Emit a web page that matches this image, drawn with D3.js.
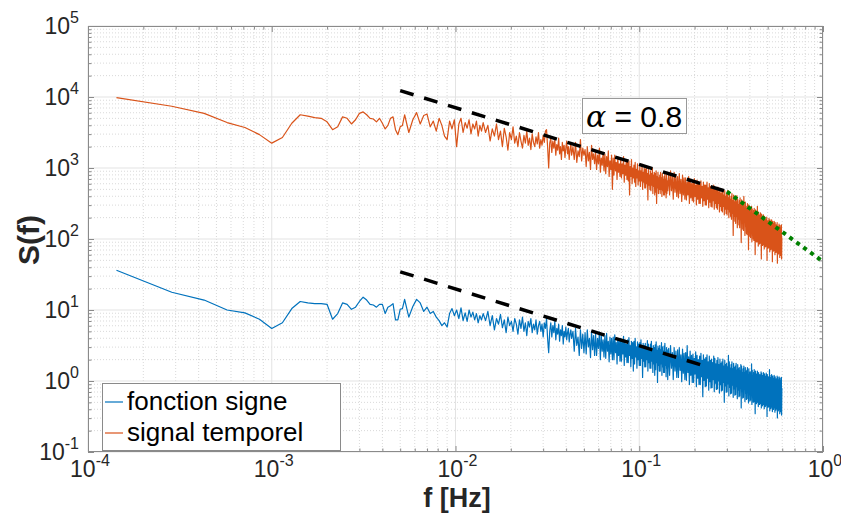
<!DOCTYPE html>
<html><head><meta charset="utf-8">
<script src="https://cdn.jsdelivr.net/npm/d3@7"></script>
<style>body{margin:0;background:#fff}svg{display:block}</style>
</head><body>
<svg id="chart" width="841" height="514"></svg>
<script>
// ---------- data ----------
const df = 1 / 7000; // frequency resolution, Hz
const freqIndex = [
1,2,3,4,5,6,7,8,9,10,11,12,13,14,15,16,17,18,19,20,21,22,23,24,25,26,27,28,29,30,31,32,33,34,35,36,37,
39,41,43,45,47,49,51,53,55,57,59,61,63,65,67,69,71,73,75,77,79,81,83,85,87,89,91,93,95,97,99,
102,105,108,111,114,117,120,123,126,129,132,135,138,141,144,147,150,153,156,159,162,165,168,171,174,177,180,183,186,189,192,195,198,201,204,207,210,213,216,219,222,225,228,231,234,237,240,243,246,249,252,255,258,261,264,267,270,273,276,279,282,285,288,291,294,297,300,
305,310,315,320,325,330,335,340,345,350,355,360,365,370,375,380,385,390,395,400,
405,410,415,420,425,430,435,440,445,450,455,460,465,470,475,480,485,490,495,500,
505,510,515,520,525,530,535,540,545,550,555,560,565,570,575,580,585,590,595,600,
605,610,615,620,625,630,635,640,645,650,655,660,665,670,675,680,685,690,695,700,
705,710,715,720,725,730,735,740,745,750,755,760,765,770,775,780,785,790,795,800,
805,810,815,820,825,830,835,840,845,850,855,860,865,870,875,880,885,890,895,900,
905,910,915,920,925,930,935,940,945,950,955,960,965,970,975,980,985,990,995,1000,
1012,1024,1036,1048,1060,1072,1084,1096,1108,1120,1132,1144,1156,1168,1180,1192,1204,1216,1228,1240,
1252,1264,1276,1288,1300,1312,1324,1336,1348,1360,1372,1384,1396,1408,1420,1432,1444,1456,1468,1480,
1492,1504,1516,1528,1540,1552,1564,1576,1588,1600,1612,1624,1636,1648,1660,1672,1684,1696,1708,1720,
1732,1744,1756,1768,1780,1792,1804,1816,1828,1840,1852,1864,1876,1888,1900,1912,1924,1936,1948,1960,
1972,1984,1996,2008,2020,2032,2044,2056,2068,2080,2092,2104,2116,2128,2140,2152,2164,2176,2188,2200,
2212,2224,2236,2248,2260,2272,2284,2296,2308,2320,2332,2344,2356,2368,2380,2392,2404,2416,2428,2440,
2452,2464,2476,2488,2500,2512,2524,2536,2548,2560,2572,2584,2596,2608,2620,2632,2644,2656,2668,2680,
2692,2704,2716,2728,2740,2752,2764,2776,2788,2800,2812,2824,2836,2848,2860,2872,2884,2896,2908,2920,
2932,2944,2956,2968,2980,2992,3004,3016,3028,3040,3052,3064,3076,3088,3100,3112,3124,3136,3148,3160,
3172,3184,3196,3208,3220,3232,3244,3256,3268,3280,3292,3304,3316,3328,3340,3352,3364,3376,3388,3400,
3412,3424,3436,3448,3460,3472,3484,3496,3508,3520,3532,3544,3556,3568,3580,3592,3604,3616,3628,3640,
3652,3664,3676,3688,3700,3712,3724,3736,3748,3760,3772,3784,3796,3808,3820,3832,3844,3856,3868,3880,
3892,3904,3916,3928,3940,3952,3964,3976,3988,4000,4012,4024,4036,4048,4060,4072,4084,4096,4108,4120,
4132,4144,4156,4168,4180];

// log10 S(f), "signal temporel"
const temporelLog10 = [
3.99,3.87,3.77,3.64,3.57,3.47,3.35,3.43,3.63,3.75,3.73,3.71,3.70,3.65,3.54,3.58,3.72,3.70,3.62,3.68,
3.77,3.79,3.75,3.70,3.69,3.65,3.70,3.63,3.55,3.60,3.70,3.72,3.54,3.47,3.58,3.60,3.75,
3.50,3.68,3.78,3.62,3.74,3.76,3.58,3.66,3.52,3.70,3.60,3.45,3.40,3.66,3.55,3.68,3.30,3.62,3.70,3.50,
3.64,3.56,3.68,3.48,3.62,3.55,3.66,3.45,3.60,3.52,3.64,
3.50,3.60,3.38,3.55,3.45,3.62,3.40,3.52,3.30,3.56,3.44,3.25,3.50,3.40,3.58,3.35,
3.45,3.30,3.50,3.38,3.28,3.46,3.35,3.52,3.32,3.42,3.26,3.48,3.36,3.30,3.44,3.34,3.50,3.28,3.40,3.32,3.46,3.36,3.52,
3.54,3.30,3.00,3.35,3.42,3.22,3.38,3.28,3.40,3.18,3.33,3.25,3.42,3.20,3.30,3.12,3.36,3.24,3.32,3.15,3.28,3.38,3.20,3.30,3.12,3.26,3.34,3.18,
3.30,3.12,3.36,3.08,3.24,3.16,3.40,3.10,3.28,3.18,
3.26,3.02,3.30,3.10,3.22,2.98,3.32,3.12,3.20,3.06,
3.24,2.98,3.18,3.06,3.28,2.94,3.14,3.04,3.22,2.96,
3.20,2.92,3.16,3.02,3.24,2.88,3.10,2.98,3.18,2.70,
3.14,2.90,3.18,2.96,3.08,2.84,3.16,2.94,3.06,2.88,
3.12,2.86,3.06,2.92,3.16,2.80,3.04,2.90,3.12,2.84,
3.08,2.82,3.10,2.62,3.02,2.88,3.12,2.78,3.00,2.86,
3.04,2.80,3.08,2.74,2.98,2.86,3.06,2.76,2.96,2.82,
3.02,2.74,2.96,2.82,3.05,2.70,2.94,2.80,3.00,2.72,
2.98,2.72,3.02,2.78,2.92,2.55,2.98,2.76,2.90,2.70,
2.96,2.68,2.92,2.76,3.00,2.64,2.90,2.74,2.94,2.62,
2.92,2.66,2.96,2.50,2.88,2.72,2.94,2.64,2.86,2.70,
2.90,2.64,2.94,2.70,2.86,2.60,2.92,2.68,2.84,2.62,
2.88,2.62,2.92,2.66,2.84,2.58,2.90,2.64,2.82,2.68,
2.92,2.62,2.96,2.68,2.88,2.56,2.94,2.66,2.90,2.60,
2.88,2.58,2.92,2.64,2.84,2.53,2.90,2.62,2.86,2.56,
2.86,2.55,2.80,2.62,2.88,2.50,2.84,2.58,2.78,2.54,
2.82,2.52,2.85,2.60,2.76,2.48,2.83,2.56,2.80,2.50,
2.78,2.50,2.82,2.58,2.74,2.46,2.80,2.54,2.76,2.48,
2.76,2.48,2.80,2.56,2.72,2.44,2.78,2.52,2.74,2.46,
2.74,2.45,2.70,2.54,2.76,2.42,2.72,2.50,2.68,2.44,
2.70,2.42,2.73,2.50,2.66,2.38,2.71,2.46,2.64,2.40,
2.66,2.38,2.70,2.46,2.62,2.34,2.68,2.42,2.60,2.36,
2.64,2.34,2.68,2.42,2.58,2.30,2.66,2.38,2.56,2.32,
2.60,2.28,2.64,2.36,2.54,2.05,2.62,2.32,2.52,2.25,
2.58,2.22,2.52,2.32,2.61,2.16,2.56,2.28,2.48,2.20,
2.54,2.16,2.58,2.28,2.48,1.95,2.55,2.22,2.46,2.14,
2.50,2.12,2.60,2.24,2.44,2.05,2.52,2.18,2.42,2.08,
2.46,2.06,2.50,2.20,2.40,1.85,2.48,2.14,2.38,2.04,
2.44,2.02,2.38,2.16,2.46,1.96,2.42,2.10,2.34,2.00,
2.40,1.98,2.43,2.12,2.34,1.78,2.41,2.06,2.32,1.96,
2.36,1.96,2.46,2.08,2.30,1.90,2.38,2.04,2.28,1.93,
2.34,1.94,2.37,2.06,2.28,1.72,2.35,2.02,2.26,1.91,
2.30,1.92,2.34,2.04,2.24,1.86,2.32,2.00,2.22,1.89,
2.28,1.90,2.22,2.02,2.31,1.70,2.26,1.98,2.20,1.87,
2.26,1.88,2.29,2.00,2.20,1.82,2.27,1.96,2.18,1.85,
2.24,1.86,2.27,1.98,2.18,1.68,2.25,1.94,2.16,1.83,
2.22,1.84,2.25,1.96,2.16,1.78,2.23,1.92,2.14,1.81,
2.20,1.82,2.14,1.94,2.23,1.66,2.18,1.90,2.12,1.79,
2.18,1.80,2.21,1.92,2.12,1.74,2.19,1.88,2.10,1.77,
2.16,1.80,2.20,1.72,2.02];

// log10 S(f), "fonction signe"
const signeLog10 = [
1.56,1.25,1.14,1.00,0.96,0.87,0.74,0.82,1.02,1.12,1.10,1.09,1.09,1.08,0.87,0.95,1.10,1.08,1.01,1.04,
1.12,1.18,1.14,1.08,1.07,1.04,1.08,1.08,0.95,1.04,1.06,1.09,0.86,0.86,1.01,1.02,1.15,
0.90,1.05,1.15,1.10,0.98,1.04,0.95,0.98,0.90,0.85,0.78,0.82,0.76,0.95,1.02,0.92,1.00,0.88,1.03,0.85,
0.96,0.84,1.00,0.90,0.97,0.86,0.95,0.82,0.92,0.86,0.95,
0.85,0.98,0.78,0.92,0.72,0.88,0.80,0.94,0.75,0.86,0.68,0.90,0.78,0.84,0.70,0.88,
0.80,0.66,0.86,0.74,0.90,0.70,0.82,0.64,0.84,0.76,0.88,0.68,0.80,0.72,0.86,0.66,0.78,0.84,0.70,0.80,0.62,0.82,0.74,
0.88,0.60,0.40,0.70,0.82,0.62,0.78,0.68,0.84,0.58,0.74,0.66,0.80,0.56,0.72,0.64,0.78,0.52,0.70,0.62,0.76,0.58,0.68,0.74,0.55,0.66,0.72,0.60,
0.70,0.42,0.74,0.50,0.62,0.36,0.72,0.46,0.66,0.40,
0.68,0.38,0.72,0.48,0.60,0.33,0.70,0.44,0.64,0.36,
0.66,0.36,0.60,0.46,0.69,0.30,0.64,0.42,0.58,0.34,
0.64,0.32,0.67,0.42,0.56,0.27,0.62,0.38,0.60,0.30,
0.62,0.30,0.65,0.40,0.54,0.24,0.60,0.36,0.56,0.28,
0.60,0.28,0.55,0.38,0.63,0.22,0.58,0.34,0.52,0.26,
0.58,0.26,0.61,0.36,0.50,0.20,0.56,0.32,0.54,0.14,
0.56,0.24,0.60,0.34,0.48,0.18,0.55,0.30,0.52,0.22,
0.54,0.22,0.58,0.32,0.46,0.05,0.53,0.28,0.50,0.20,
0.53,0.20,0.48,0.30,0.57,0.14,0.52,0.26,0.45,0.18,
0.52,0.18,0.56,0.28,0.44,0.12,0.50,0.24,0.47,0.08,
0.51,0.16,0.55,0.26,0.43,-0.02,0.49,0.22,0.46,0.14,
0.50,0.14,0.44,0.24,0.54,0.08,0.48,0.20,0.42,0.12,
0.49,0.12,0.53,0.22,0.41,0.06,0.47,0.18,0.44,0.02,
0.46,0.08,0.50,0.18,0.40,0.02,0.47,0.14,0.42,0.05,
0.44,0.05,0.47,0.15,0.37,-0.01,0.45,0.11,0.39,0.02,
0.40,0.01,0.50,0.12,0.34,-0.05,0.42,0.08,0.36,-0.02,
0.38,-0.02,0.32,0.10,0.41,-0.08,0.36,0.04,0.30,-0.05,
0.35,-0.05,0.39,0.06,0.29,-0.22,0.37,0.01,0.31,-0.08,
0.33,-0.07,0.37,0.04,0.27,-0.13,0.35,-0.01,0.29,-0.10,
0.31,-0.09,0.26,0.02,0.35,-0.15,0.32,-0.03,0.24,-0.12,
0.29,-0.11,0.33,0.00,0.23,-0.17,0.31,-0.05,0.25,-0.14,
0.27,-0.13,0.31,-0.02,0.21,-0.30,0.29,-0.07,0.23,-0.16,
0.25,-0.15,0.20,-0.04,0.36,-0.21,0.27,-0.09,0.18,-0.18,
0.23,-0.17,0.27,-0.06,0.17,-0.23,0.25,-0.11,0.19,-0.20,
0.21,-0.19,0.25,-0.08,0.15,-0.25,0.23,-0.13,0.17,-0.22,
0.19,-0.21,0.14,-0.10,0.23,-0.38,0.21,-0.15,0.12,-0.24,
0.17,-0.23,0.21,-0.12,0.11,-0.29,0.19,-0.17,0.13,-0.26,
0.15,-0.25,0.19,-0.14,0.09,-0.31,0.17,-0.19,0.11,-0.28,
0.13,-0.27,0.08,-0.16,0.24,-0.33,0.15,-0.21,0.06,-0.30,
0.12,-0.29,0.16,-0.18,0.06,-0.46,0.14,-0.23,0.08,-0.32,
0.10,-0.30,0.14,-0.19,0.04,-0.36,0.12,-0.24,0.06,-0.33,
0.09,-0.32,0.04,-0.21,0.13,-0.38,0.11,-0.26,0.02,-0.35,
0.08,-0.33,0.12,-0.22,0.02,-0.39,0.10,-0.27,0.04,-0.36,
0.07,-0.34,0.11,-0.23,0.01,-0.50,0.09,-0.28,0.03,-0.37,
0.06,-0.36,0.01,-0.25,0.16,-0.42,0.08,-0.30,-0.02,-0.39,
0.05,-0.37,0.09,-0.26,-0.01,-0.43,0.07,-0.31,0.01,-0.40,
0.04,-0.38,0.08,-0.27,-0.02,-0.44,0.06,-0.32,0.00,-0.41,
0.03,-0.39,-0.03,-0.28,0.07,-0.52,0.05,-0.33,-0.05,-0.42,
0.02,-0.40,0.06,-0.29,-0.04,-0.46,0.04,-0.34,-0.01,-0.43,
0.01,-0.41,0.05,-0.48,-0.10];

const seriesNames = ["fonction signe", "signal temporel"];
const seriesColors = ["#0072BD", "#D95319"];

// power-law guide lines (endpoints)
const fitFreq  = [[0.005, 0.3], [0.005, 0.23], [0.3, 1.0]];
const fitValue = [[12300, 465], [34.5, 1.61], [465, 48]];
const fitStyle = ["dash", "dash", "dot"];
const annotationText = "0.8";

const xTickExp = [-4, -3, -2, -1, 0];
const yTickExp = [-1, 0, 1, 2, 3, 4, 5];

// ---------- drawing ----------
const W = 841, H = 514;
const m = {left: 88, right: 823, top: 26, bottom: 452};
const x = d3.scaleLog().domain([1e-4, 1]).range([m.left, m.right]);
const y = d3.scaleLog().domain([1e-1, 1e5]).range([m.bottom, m.top]);

const svg = d3.select("#chart");
svg.append("rect").attr("width", W).attr("height", H).attr("fill", "#fff");
svg.append("rect").attr("x", m.left).attr("y", m.top)
  .attr("width", m.right - m.left).attr("height", m.bottom - m.top).attr("fill", "#fff");

const xMajor = xTickExp.map(e => Math.pow(10, e));
const yMajor = yTickExp.map(e => Math.pow(10, e));
const xMinor = [], yMinor = [];
xTickExp.slice(0, -1).forEach(e => { for (let k = 2; k <= 9; k++) xMinor.push(k * Math.pow(10, e)); });
yTickExp.slice(0, -1).forEach(e => { for (let k = 2; k <= 9; k++) yMinor.push(k * Math.pow(10, e)); });

const grid = svg.append("g");
grid.selectAll(".gxm").data(xMinor).join("line")
  .attr("x1", d => x(d)).attr("x2", d => x(d)).attr("y1", m.top).attr("y2", m.bottom)
  .attr("stroke", "#d9d9d9").attr("stroke-width", 1).attr("stroke-dasharray", "1 2");
grid.selectAll(".gym").data(yMinor).join("line")
  .attr("y1", d => y(d)).attr("y2", d => y(d)).attr("x1", m.left).attr("x2", m.right)
  .attr("stroke", "#d9d9d9").attr("stroke-width", 1).attr("stroke-dasharray", "1 2");
grid.selectAll(".gx").data(xMajor).join("line")
  .attr("x1", d => x(d)).attr("x2", d => x(d)).attr("y1", m.top).attr("y2", m.bottom)
  .attr("stroke", "#e3e3e3").attr("stroke-width", 1);
grid.selectAll(".gy").data(yMajor).join("line")
  .attr("y1", d => y(d)).attr("y2", d => y(d)).attr("x1", m.left).attr("x2", m.right)
  .attr("stroke", "#e3e3e3").attr("stroke-width", 1);

// series
const line = d3.line().x(d => x(d[0])).y(d => y(d[1]));
const seriesData = [signeLog10, temporelLog10].map(vals =>
  freqIndex.map((k, i) => [k * df, Math.pow(10, vals[i])]));
const plot = svg.append("g");
seriesData.forEach((pts, i) => {
  plot.append("path").datum(pts).attr("d", line)
    .attr("fill", "none").attr("stroke", seriesColors[i])
    .attr("stroke-width", 1.2).attr("stroke-linejoin", "round");
});

// guide lines
fitFreq.forEach((fr, i) => {
  const pts = fr.map((f, j) => [f, fitValue[i][j]]);
  const p = plot.append("path").datum(pts).attr("d", line).attr("fill", "none");
  if (fitStyle[i] === "dash") {
    p.attr("stroke", "#000").attr("stroke-width", 3.5).attr("stroke-dasharray", "14 11");
  } else {
    p.attr("stroke", "#008000").attr("stroke-width", 4).attr("stroke-dasharray", "4 4.6");
  }
});

// axes (ticks inward)
const axisColor = "#8a8a8a";
function styleAxis(g) {
  g.select(".domain").remove();
  g.selectAll("line").attr("stroke", axisColor);
  g.selectAll("text").remove();
}
const inner = svg.append("g");
[[xMajor, 6], [xMinor, 3.5]].forEach(([vals, len]) => {
  inner.append("g").attr("transform", `translate(0,${m.bottom})`)
    .call(d3.axisBottom(x).tickValues(vals).tickSize(-len).tickFormat("")).call(styleAxis);
  inner.append("g").attr("transform", `translate(0,${m.top})`)
    .call(d3.axisTop(x).tickValues(vals).tickSize(-len).tickFormat("")).call(styleAxis);
});
[[yMajor, 6], [yMinor, 3.5]].forEach(([vals, len]) => {
  inner.append("g").attr("transform", `translate(${m.left},0)`)
    .call(d3.axisLeft(y).tickValues(vals).tickSize(-len).tickFormat("")).call(styleAxis);
  inner.append("g").attr("transform", `translate(${m.right},0)`)
    .call(d3.axisRight(y).tickValues(vals).tickSize(-len).tickFormat("")).call(styleAxis);
});
svg.append("rect").attr("x", m.left + 0.5).attr("y", m.top + 0.5)
  .attr("width", m.right - m.left - 1).attr("height", m.bottom - m.top - 1)
  .attr("fill", "none").attr("stroke", axisColor).attr("stroke-width", 1);

// tick labels
const font = "'Liberation Sans', Arial, Helvetica, sans-serif";
const labels = svg.append("g").attr("font-family", font).attr("fill", "#262626");
xTickExp.forEach(e => {
  const t = labels.append("text").attr("x", x(Math.pow(10, e)) + 2).attr("y", 477)
    .attr("text-anchor", "middle");
  t.append("tspan").attr("font-size", 23).text("10");
  t.append("tspan").attr("font-size", 16).attr("dy", -11).text(String(e));
});
yTickExp.forEach(e => {
  const t = labels.append("text").attr("x", 79).attr("y", y(Math.pow(10, e)) + 8)
    .attr("text-anchor", "end");
  t.append("tspan").attr("font-size", 23).text("10");
  t.append("tspan").attr("font-size", 16).attr("dy", -11).text(String(e));
});

// axis titles
svg.append("text").attr("x", 457).attr("y", 507).attr("text-anchor", "middle")
  .attr("font-family", font).attr("font-weight", "bold").attr("font-size", 27)
  .attr("fill", "#262626").text("f [Hz]");
svg.append("text").attr("transform", "translate(39,240) rotate(-90)").attr("text-anchor", "middle")
  .attr("font-family", font).attr("font-weight", "bold").attr("font-size", 30)
  .attr("fill", "#262626").text("S(f)");

// legend
const lg = svg.append("g");
lg.append("rect").attr("x", 102.5).attr("y", 383.5).attr("width", 238).attr("height", 67)
  .attr("fill", "#fff").attr("stroke", axisColor).attr("stroke-width", 1);
seriesNames.forEach((name, i) => {
  const ly = 402 + i * 31;
  lg.append("line").attr("x1", 105).attr("x2", 123).attr("y1", ly).attr("y2", ly)
    .attr("stroke", seriesColors[i]).attr("stroke-width", 1.2);
  lg.append("text").attr("x", 127).attr("y", ly + 8).attr("font-family", font)
    .attr("font-size", 26).attr("fill", "#000").text(name);
});

// annotation box
const an = svg.append("g");
an.append("rect").attr("x", 582.5).attr("y", 98.5).attr("width", 104).attr("height", 35)
  .attr("fill", "#fff").attr("stroke", "#999").attr("stroke-width", 1);
const at = an.append("text").attr("x", 634).attr("y", 127).attr("text-anchor", "middle")
  .attr("font-size", 30).attr("fill", "#000");
at.append("tspan").attr("font-family", "'DejaVu Serif', 'Liberation Serif', serif")
  .attr("font-style", "italic").text("α");
at.append("tspan").attr("font-family", font).text(" = " + annotationText);
</script>
</body></html>
